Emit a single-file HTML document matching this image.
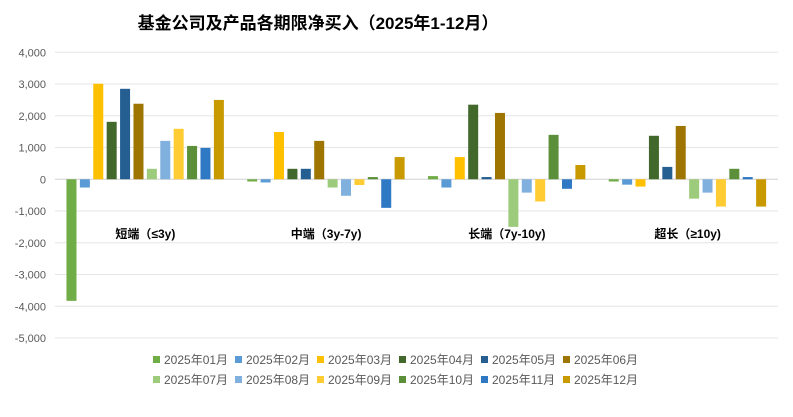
<!DOCTYPE html>
<html><head><meta charset="utf-8"><style>
body{margin:0;background:#fff;width:793px;height:412px;overflow:hidden;font-family:"Liberation Sans","Noto Sans CJK SC",sans-serif;}
svg text{font-family:"Liberation Sans","Noto Sans CJK SC",sans-serif;}
</style></head><body>
<svg id="chart" width="793" height="412">
<text x="318" y="29" text-anchor="middle" font-size="17" font-weight="bold" fill="#000">基金公司及产品各期限净买入（2025年1-12月）</text>
<g id="grid"></g><g id="bars"></g><g id="cats"></g><g id="legend"></g>
</svg>
<script>
const categories=["短端（≤3y)","中端（3y-7y)","长端（7y-10y)","超长（≥10y)"];
const months=["2025年01月","2025年02月","2025年03月","2025年04月","2025年05月","2025年06月","2025年07月","2025年08月","2025年09月","2025年10月","2025年11月","2025年12月"];
const shortVals=[-3830,-260,3010,1810,2850,2380,330,1210,1590,1050,990,2500];
const midVals=[-70,-100,1490,330,330,1210,-260,-520,-180,70,-900,700];
const longVals=[100,-260,700,2350,70,2090,-1500,-420,-700,1400,-300,450];
const ultraVals=[-70,-170,-230,1370,390,1680,-610,-420,-860,330,70,-860];
const yTicks=[4000,3000,2000,1000,0,-1000,-2000,-3000,-4000,-5000];
const colors=["#70ad47","#5b9bd5","#ffc000","#43682b","#255e91","#9e7500","#9dcb7c","#7fb0de","#ffcd33","#5b8f3a","#2f78c4","#c99a00"];
const series=[shortVals,midVals,longVals,ultraVals];
const NS="http://www.w3.org/2000/svg";
const L=55,R=778,top0=52.3,bot=338;
const y=v=>top0+(4000-v)*(bot-top0)/9000;
const cw=(R-L)/categories.length, step=13.4, bw=10;
function mk(t,a,p){const e=document.createElementNS(NS,t);for(const k in a)e.setAttribute(k,a[k]);p.appendChild(e);return e;}
const grid=document.getElementById('grid');
yTicks.forEach(t=>{
 const l=mk('line',{x1:L,x2:R,y1:y(t),y2:y(t),stroke:t===0?'#d0d0d0':'#e6e6e6','stroke-width':1},grid);
 
 
 const tx=mk('text',{x:46,y:y(t)+4,'text-anchor':'end','font-size':11,fill:'#595959'},grid);
 tx.textContent=t.toLocaleString('en-US');
 
 
});
const bars=document.getElementById('bars');
series.forEach((vals,ci)=>{
 const gx=L+ci*cw+(cw-12*step)/2+1.5;
 vals.forEach((v,mi)=>{
  const y0=y(0),yv=y(v);
  const r=mk('rect',{x:gx+mi*step,y:Math.min(y0,yv),width:bw,height:Math.max(0.5,Math.abs(yv-y0)),fill:colors[mi]},bars);
  
  
 });
 const c=mk('text',{x:L+ci*cw+cw/2,y:238,'text-anchor':'middle','font-size':12,'font-weight':'bold',fill:'#000'},document.getElementById('cats'));
 c.textContent=categories[ci];
 
 
});
const lg=document.getElementById('legend');
const lx=[153,235,317,399,481,563];
months.forEach((m,i)=>{
 const row=Math.floor(i/6),col=i%6;
 const x=lx[col],yy=364+row*20;
 const g=mk('g',{},lg);
 
 
 mk('rect',{x:x,y:yy-8,width:7,height:7,fill:colors[i]},g);
 const t=mk('text',{x:x+11,y:yy,'font-size':12,fill:'#595959'},g);
 t.textContent=m;
});
</script>
</body></html>
